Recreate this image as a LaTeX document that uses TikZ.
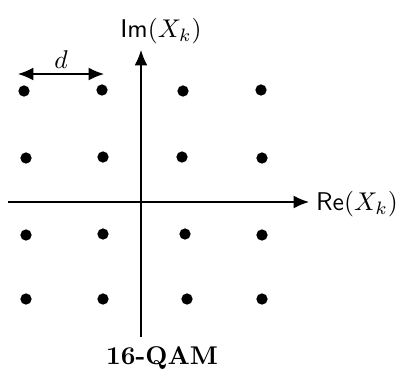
\documentclass[tikz,border=0pt]{standalone}
\usetikzlibrary{arrows.meta}
\begin{document}
\begin{tikzpicture}[x=0.39pt,y=-0.39pt,
  pt/.style={circle,fill=black,inner sep=0pt,minimum size=4.4pt},
  axis/.style={-{Latex[length=6pt,width=5pt]},line width=0.5pt},
  lbl/.style={inner sep=0pt}]
\useasboundingbox (0,0) rectangle (400,373);
% points
\node[pt] (p11) at (24,91) {};
\node[pt] (p12) at (102,90) {};
\node[pt] (p13) at (183,91) {};
\node[pt] (p14) at (261,90) {};
\node[pt] (p21) at (26,158) {};
\node[pt] (p22) at (103,157) {};
\node[pt] (p23) at (182,157) {};
\node[pt] (p24) at (262,158) {};
\node[pt] (p31) at (26,235) {};
\node[pt] (p32) at (103,234) {};
\node[pt] (p33) at (185,234) {};
\node[pt] (p34) at (262,235) {};
\node[pt] (p41) at (26,299) {};
\node[pt] (p42) at (103,299) {};
\node[pt] (p43) at (187,299) {};
\node[pt] (p44) at (262,299) {};
% axes
\coordinate (vb) at (141,337);
\coordinate (vt) at (141,50);
\coordinate (hl) at (8,202);
\coordinate (hr) at (309,202);
\draw[axis] (vb) -- (vt);
\draw[axis] (hl) -- (hr);
\node[lbl] (im) at (161,31) {$\mathsf{Im}(X_k)$};
\node[lbl] (re) at (357,204) {$\mathsf{Re}(X_k)$};
% distance
\coordinate (da) at (18,74);
\coordinate (db) at (104,74);
\draw[{Latex[length=6pt,width=5pt]}-{Latex[length=6pt,width=5pt]},line width=0.5pt] (da) -- (db);
\node[lbl] (d) at (61,60) {$d$};
\node[lbl] (title) at (162,358) {\textbf{16-QAM}};
\end{tikzpicture}
\end{document}
